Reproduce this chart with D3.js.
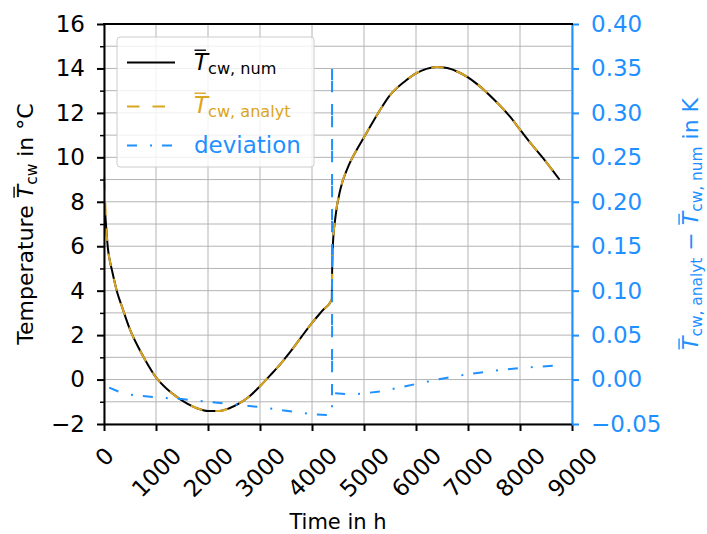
<!DOCTYPE html>
<html>
<head>
<meta charset="utf-8">
<script src="https://cdn.jsdelivr.net/npm/d3@7"></script>
<style>
  body { margin: 0; background: #fff; }
  text { font-family: "DejaVu Sans", sans-serif; }
</style>
</head>
<body>
<script>
// time axis (h) and mean cooling-water temperature (°C)
var timeT = [0, 25, 50, 75, 100, 150, 250, 350, 500, 650, 800, 1000, 1200, 1400, 1600, 1800,
  2000, 2200, 2400, 2600, 2800, 3000, 3200, 3400, 3600, 3800, 4000, 4200, 4380, 4388,
  4400, 4450, 4550, 4700, 4850, 5000, 5300, 5500, 5800, 6000, 6200, 6400, 6600, 6800, 7000,
  7200, 7500, 7800, 8000, 8200, 8500, 8760];
var tempAnalyt = [9.1, 7.9, 6.6, 5.9, 5.5, 4.95, 3.95, 3.25, 2.25, 1.5, 0.85, 0.1, -0.4, -0.78, -1.08, -1.3,
  -1.42, -1.42, -1.3, -1.07, -0.75, -0.3, 0.2, 0.72, 1.3, 1.93, 2.55, 3.1, 3.6, 5.0,
  6.0, 7.3, 8.6, 9.6, 10.3, 10.9, 12.1, 12.8, 13.45, 13.78, 13.98, 14.06, 14.02, 13.85, 13.6,
  13.25, 12.6, 11.85, 11.25, 10.65, 9.8, 9.0];
var tempNum = [null, 7.4, 6.6, 5.9, 5.5, 4.95, 3.95, 3.25, 2.25, 1.5, 0.85, 0.1, -0.4, -0.78, -1.08, -1.3,
  -1.42, -1.42, -1.3, -1.07, -0.75, -0.3, 0.2, 0.72, 1.3, 1.93, 2.55, 3.1, 3.6, 5.0,
  6.0, 7.3, 8.6, 9.6, 10.3, 10.9, 12.1, 12.8, 13.45, 13.78, 13.98, 14.06, 14.02, 13.85, 13.6,
  13.25, 12.6, 11.85, 11.25, 10.65, 9.8, 9.0];

// deviation analyt - num (K)
var timeDev = [100, 300, 500, 1000, 1500, 2000, 2500, 3000, 3500, 4000, 4385, 4386, 4387,
  4800, 5350, 6000, 6500, 7000, 7500, 8000, 8500, 8760];
var deviation = [-0.009, -0.014, -0.017, -0.020, -0.022, -0.025, -0.028, -0.031, -0.035, -0.039, -0.040, 0.356, -0.015,
  -0.017, -0.013, -0.005, 0.001, 0.006, 0.010, 0.013, 0.015, 0.016];

var timeTicks = [0, 1000, 2000, 3000, 4000, 5000, 6000, 7000, 8000, 9000];
var tempTicks = [-2, 0, 2, 4, 6, 8, 10, 12, 14, 16];
var tempMinor = [-1, 1, 3, 5, 7, 9, 11, 13, 15];
var devTicks = [-0.05, 0, 0.05, 0.10, 0.15, 0.20, 0.25, 0.30, 0.35, 0.40];

var width = 707, height = 534,
    plotL = 104, plotR = 572, plotT = 24, plotB = 424;
var BLUE = "#1e90ff", ORANGE = "#daa520";
var fs = 23;

var x = d3.scaleLinear().domain([0, 9000]).range([plotL, plotR]);
var y = d3.scaleLinear().domain([-2, 16]).range([plotB, plotT]);
var y2 = d3.scaleLinear().domain([-0.05, 0.40]).range([plotB, plotT]);

var svg = d3.select("body").append("svg")
    .attr("width", width)
    .attr("height", height);

// grid
var grid = svg.append("g");
grid.selectAll(".hg")
    .data(tempTicks.concat(tempMinor))
    .enter().append("line")
    .attr("x1", plotL).attr("x2", plotR)
    .attr("y1", function (d) { return y(d); })
    .attr("y2", function (d) { return y(d); })
    .attr("stroke", "#b4b4b4").attr("stroke-width", 1);
grid.selectAll(".vg")
    .data(timeTicks)
    .enter().append("line")
    .attr("y1", plotT).attr("y2", plotB)
    .attr("x1", function (d) { return x(d); })
    .attr("x2", function (d) { return x(d); })
    .attr("stroke", "#b4b4b4").attr("stroke-width", 1);

// lines
var numData = timeT.map(function (t, i) { return [t, tempNum[i]]; });
var anaData = timeT.map(function (t, i) { return [t, tempAnalyt[i]]; });
var devData = timeDev.map(function (t, i) { return [t, deviation[i]]; });

var tLine = d3.line()
    .defined(function (d) { return d[1] !== null; })
    .x(function (d) { return x(d[0]); })
    .y(function (d) { return y(d[1]); })
    .curve(d3.curveMonotoneX);
var dLine = d3.line()
    .x(function (d) { return x(d[0]); })
    .y(function (d) { return y2(d[1]); });

svg.append("path").attr("d", tLine(numData))
    .attr("fill", "none").attr("stroke", "#000").attr("stroke-width", 2);
svg.append("path").attr("d", tLine(anaData))
    .attr("fill", "none").attr("stroke", ORANGE).attr("stroke-width", 2)
    .attr("stroke-dasharray", "12.5,13");
svg.append("path").attr("d", dLine(devData))
    .attr("fill", "none").attr("stroke", BLUE).attr("stroke-width", 2)
    .attr("stroke-dasharray", "10,13,2,10");

// axes
function styleAxis(g, color) {
    g.attr("font-size", null).attr("font-family", null);
    g.select(".domain").attr("stroke", color).attr("stroke-width", 2);
    g.selectAll(".tick line").attr("stroke", color).attr("stroke-width", 2);
    g.selectAll(".tick text").attr("fill", color).attr("font-size", fs);
}

var gx = svg.append("g")
    .attr("transform", "translate(0," + plotB + ")")
    .call(d3.axisBottom(x).tickValues(timeTicks).tickFormat(d3.format("d"))
        .tickSize(7).tickSizeOuter(0));
styleAxis(gx, "#000");
gx.selectAll(".tick text").each(function () {
    var el = d3.select(this);
    el.attr("y", null).attr("dy", null)
        .attr("text-anchor", "middle")
        .attr("dominant-baseline", "central");
    var w = this.getComputedTextLength();
    var off = 21.5 + (w + 0.73 * fs) / (2 * Math.SQRT2);
    el.attr("transform", "translate(0," + off + ")rotate(-45)");
});

var gyMinor = svg.append("g")
    .attr("transform", "translate(" + plotL + ",0)")
    .call(d3.axisLeft(y).tickValues(tempMinor).tickFormat("").tickSize(4).tickSizeOuter(0));
gyMinor.select(".domain").remove();
gyMinor.selectAll(".tick line").attr("stroke", "#000").attr("stroke-width", 1.5);

var gy = svg.append("g")
    .attr("transform", "translate(" + plotL + ",0)")
    .call(d3.axisLeft(y).tickValues(tempTicks).tickSize(7).tickSizeOuter(0).tickPadding(12));
styleAxis(gy, "#000");

var gy2 = svg.append("g")
    .attr("transform", "translate(" + plotR + ",0)")
    .call(d3.axisRight(y2).tickValues(devTicks).tickFormat(d3.format(".2f"))
        .tickSize(7).tickSizeOuter(0).tickPadding(12));
styleAxis(gy2, BLUE);

svg.append("line")
    .attr("x1", plotL - 1).attr("x2", plotR + 1)
    .attr("y1", plotT).attr("y2", plotT)
    .attr("stroke", "#000").attr("stroke-width", 2);

// text with overlined italic T and subscripts
function mathText(parent, x0, y0, parts, size, color, anchor) {
    var t = parent.append("text")
        .attr("x", x0).attr("y", y0)
        .attr("font-size", size)
        .attr("fill", color)
        .attr("text-anchor", anchor || "start");
    var shift = 0, idx = 0, bars = [];
    parts.forEach(function (p) {
        var s = t.append("tspan").text(p.s);
        var want = p.sub ? size * 0.17 : 0;
        if (p.it) s.attr("font-style", "italic");
        if (p.sub) s.attr("font-size", size * 0.7);
        s.attr("dy", want - shift);
        shift = want;
        if (p.bar) bars.push(idx);
        idx += p.s.length;
    });
    bars.forEach(function (i) {
        var b = t.node().getExtentOfChar(i);
        parent.append("line")
            .attr("x1", b.x + 0.5).attr("x2", b.x + size * 0.52)
            .attr("y1", y0 - size * 0.86).attr("y2", y0 - size * 0.86)
            .attr("stroke", color).attr("stroke-width", 1.4);
    });
    return t;
}

// axis labels
svg.append("text")
    .attr("x", (plotL + plotR) / 2).attr("y", 529)
    .attr("text-anchor", "middle")
    .attr("font-size", 21)
    .text("Time in h");

var yl = svg.append("g").attr("transform", "translate(33," + (plotT + plotB) / 2 + ")rotate(-90)");
mathText(yl, 0, 0, [
    { s: "Temperature " },
    { s: "T", it: true, bar: true },
    { s: "cw", sub: true },
    { s: " in °C" }
], 22, "#000", "middle");

var yr = svg.append("g").attr("transform", "translate(698," + (plotT + plotB) / 2 + ")rotate(-90)");
mathText(yr, 0, 0, [
    { s: "T", it: true, bar: true },
    { s: "cw, analyt", sub: true },
    { s: " \u2212 " },
    { s: "T", it: true, bar: true },
    { s: "cw, num", sub: true },
    { s: " in K" }
], 22, BLUE, "middle");

// legend
var lg = svg.append("g");
lg.append("rect")
    .attr("x", 117).attr("y", 37).attr("width", 197).attr("height", 130)
    .attr("rx", 3)
    .attr("fill", "#fff").attr("fill-opacity", 0.8)
    .attr("stroke", "#cccccc").attr("stroke-width", 1);

var legendRows = [
    { y: 62.5, color: "#000", dash: null },
    { y: 106.5, color: ORANGE, dash: "12.5,13" },
    { y: 145.5, color: BLUE, dash: "10,13,2,10" }
];
legendRows.forEach(function (r) {
    lg.append("line")
        .attr("x1", 127).attr("x2", 175)
        .attr("y1", r.y).attr("y2", r.y)
        .attr("stroke", r.color).attr("stroke-width", 2)
        .attr("stroke-dasharray", r.dash);
});
mathText(lg, 194, 70, [
    { s: "T", it: true, bar: true },
    { s: "cw, num", sub: true }
], fs, "#000");
mathText(lg, 194, 113, [
    { s: "T", it: true, bar: true },
    { s: "cw, analyt", sub: true }
], fs, ORANGE);
lg.append("text")
    .attr("x", 194).attr("y", 153)
    .attr("font-size", fs)
    .attr("fill", BLUE)
    .text("deviation");
</script>
</body>
</html>
